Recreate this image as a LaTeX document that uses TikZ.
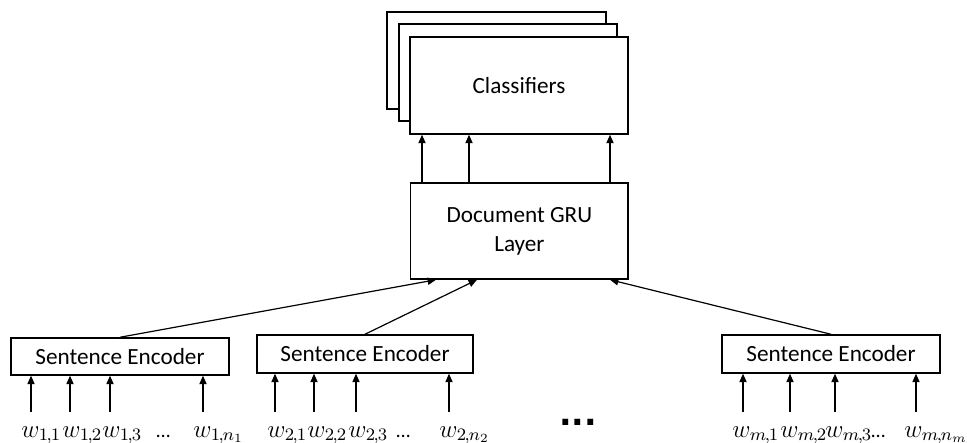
\RequirePackage{fix-cm}
\documentclass[tikz,border=0pt]{standalone}
\usepackage{fontspec}
\setmainfont{Carlito}
\newfontfamily\gapfont{DejaVu Sans}
\usetikzlibrary{arrows.meta}
% word symbol with a tight two-part index
\newcommand\wl[2]{w_{#1\mkern-1.5mu,\mkern-1mu#2}}

\begin{document}
\begin{tikzpicture}[x=0.5pt,y=-0.5pt,
  box/.style={draw=black,fill=white,line width=0.75pt,inner sep=0pt,
    align=center,font=\fontsize{11.6}{14.5}\selectfont},
  arr/.style={line width=0.6pt,-{Triangle[length=4.2pt,width=3.6pt]}},
  word/.style={anchor=base west,inner sep=0pt,font=\fontsize{12.5}{15}\selectfont},
  ell/.style={anchor=base west,inner sep=0pt,font=\fontsize{10}{12}\selectfont}]
\useasboundingbox (0,0) rectangle (967,443);

% stacked classifier boxes (back to front)
\node[box,minimum width=109.5pt,minimum height=48.5pt] (cls3) at (496.5,60.5) {};
\node[box,minimum width=109pt,minimum height=48.5pt] (cls2) at (508,72.5) {};
\node[box,minimum width=109pt,minimum height=48.5pt] (cls) at (519,85.5) {Classifiers};

% document-level GRU
\node[box,minimum width=108.7pt,minimum height=48pt] (gru) at (519.4,231) {Document GRU\\Layer};

% sentence encoders
\node[box,minimum width=109pt,minimum height=18.5pt] (enc1) at (120,356.5) {Sentence Encoder};
\node[box,minimum width=108pt,minimum height=19pt] (enc2) at (365,354) {Sentence Encoder};
\node[box,minimum width=109pt,minimum height=19pt] (enc3) at (831,354) {Sentence Encoder};

% GRU -> classifiers
\draw[arr] ([xshift=-48.7pt]gru.north) -- ([xshift=-48.5pt]cls.south);
\draw[arr] ([xshift=-25.2pt]gru.north) -- ([xshift=-25pt]cls.south);
\draw[arr] ([xshift=45.3pt]gru.north) -- ([xshift=45.5pt]cls.south);

% sentence encoders -> GRU
\draw[arr] (enc1.north) -- ([xshift=-41.7pt]gru.south);
\draw[arr] (enc2.north) -- ([xshift=-21.2pt]gru.south);
\draw[arr] (enc3.north) -- ([xshift=45.3pt]gru.south);

% word inputs
\foreach \n/\x in {a11/31,a12/70,a13/110,a14/203}{
  \coordinate (\n) at (\x,412);
  \draw[arr] (\n) -- (\n |- enc1.south);}
\foreach \n/\x in {a21/275,a22/314,a23/356,a24/449}{
  \coordinate (\n) at (\x,412);
  \draw[arr] (\n) -- (\n |- enc2.south);}
\foreach \n/\x in {a31/743,a32/790,a33/835,a34/916}{
  \coordinate (\n) at (\x,412);
  \draw[arr] (\n) -- (\n |- enc3.south);}

% word labels
\node[word] (w11) at (21,437) {$\wl{1}{1}$};
\node[word] (w12) at (62,437) {$\wl{1}{2}$};
\node[word] (w13) at (102,437) {$\wl{1}{3}$};
\node[ell] (d1) at (156,437) {…};
\node[word] (w14) at (193,437) {$\wl{1}{n_1}$};

\node[word] (w21) at (267,437) {$\wl{2}{1}$};
\node[word] (w22) at (307,437) {$\wl{2}{2}$};
\node[word] (w23) at (348,437) {$\wl{2}{3}$};
\node[ell] (d2) at (396,437) {…};
\node[word] (w24) at (439,437) {$\wl{2}{n_2}$};

\node[word] (w31) at (732,437) {$\wl{m}{1}$};
\node[word] (w32) at (780,437) {$\wl{m}{2}$};
\node[word] (w33) at (825,437) {$\wl{m}{3}$};
\node[ell] (d3) at (871,437) {…};
\node[word] (w34) at (904,437) {$\wl{m}{n_m}$};

% gap between the second and last sentence
\node[anchor=base,inner sep=0pt,font=\gapfont\fontsize{16.5}{18}\selectfont\bfseries] (gap) at (578,425) {...};
\end{tikzpicture}
\end{document}
